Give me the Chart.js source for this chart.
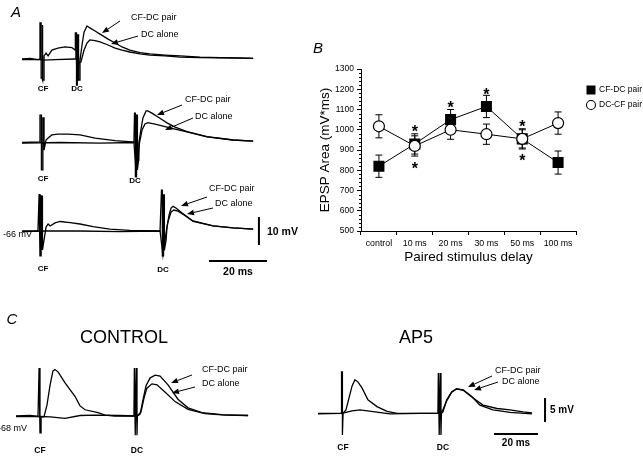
<!DOCTYPE html>
<html>
<head>
<meta charset="utf-8">
<script src="https://cdn.jsdelivr.net/npm/chart.js@4.4.1/dist/chart.umd.min.js"></script>
<style>
  body { margin: 0; background: #fff; }
  #fig { position: relative; width: 643px; height: 457px; overflow: hidden;
         font-family: "Liberation Sans", Arial, sans-serif; color: #000; }
  #fig canvas { position: absolute; }
  .lbl { position: absolute; white-space: nowrap; line-height: 1; }
</style>
</head>
<body>
<div id="fig">
  <canvas id="a1"></canvas>
  <canvas id="a2"></canvas>
  <canvas id="a3"></canvas>
  <canvas id="ctl"></canvas>
  <canvas id="ap5"></canvas>
  <canvas id="b"></canvas>
  <canvas id="arrows" width="643" height="457" style="left:0;top:0"></canvas>
</div>
<script>
// panel B data (EPSP area, mV*ms)
const delays = ['control', '10 ms', '20 ms', '30 ms', '50 ms', '100 ms'];
const cfdcMean = [820, 930, 1050, 1115, 955, 838];
const cfdcErr = [55, 50, 50, 55, 50, 57];
const dccfMean = [1017, 920, 1000, 978, 955, 1033];
const dccfErr = [57, 50, 47, 50, 45, 55];
const starAbove = [null, 1007, 1125, 1192, 1035, null];
const starBelow = [null, 826, null, null, 867, null];
const yTicks = [500, 600, 700, 800, 900, 1000, 1100, 1200, 1300];

// traces: [time ms, mV above rest]
const a1Pair = [[0,0],[2.8,0.2],[5.5,-0.2],[6.2,0],[6.2,12.9],[6.6,12.9],[6.6,-6.8],[6.9,-6.8],[6.9,12.1],[7.2,12.1],[7.2,-7.5],[7.6,-7.5],[7.6,1.1],[8.3,2.1],[9.0,1.1],[10.3,3.2],[12.4,3.9],[14.8,4.3],[17.2,4.1],[18.3,3.2],[18.4,9.3],[18.8,9.3],[18.8,-9.3],[19.1,-9.3],[19.1,8.6],[19.5,8.6],[19.5,-7.5],[19.8,-7.5],[20,-0.4],[20.7,5],[21.4,9.6],[22.4,11.8],[23.4,11.1],[25.2,10],[26.9,8.9],[29.7,7.1],[32.1,5.7],[34.5,4.3],[37.2,3.2],[40.7,2.3],[44.1,1.8],[49.3,1.4],[54.5,1.1],[61.4,0.7],[68.3,0.5],[75.2,0.4],[79.7,0.2]];
const a1Alone = [[0,-0.2],[6.2,-0.2],[7.6,-0.4],[11.4,-0.2],[18.3,0],[18.6,8.6],[19,-8.9],[19.7,-1.1],[20.3,-1.1],[21.4,3.2],[22.4,5.7],[23.4,6.8],[25.2,6.6],[26.9,6.1],[29.7,5],[32.1,3.9],[34.5,3.2],[37.2,2.5],[40.7,1.8],[44.1,1.4],[49.3,1.1],[54.5,0.7],[61.4,0.5],[68.3,0.4],[79.7,0.2]];
const a2Pair = [[0,0],[6.2,0.2],[6.2,9.8],[6.7,9.8],[6.7,-9.8],[7.2,-9.8],[7.2,8.8],[7.6,8.8],[7.6,-2.7],[8.3,0.9],[9,1.6],[10.3,2.7],[12.4,3],[15.9,3],[20,2.7],[25.2,1.6],[32.1,0.7],[37.9,0.2],[38.6,0],[38.8,10.5],[39.1,10.5],[39.1,-12.3],[39.5,-12.3],[39.5,9.8],[39.8,9.8],[39.8,-9.8],[40.2,-6.3],[40.3,-0.2],[41,4.5],[41.7,8.8],[42.8,11.3],[43.4,11.3],[44.8,10.5],[46.9,9.1],[50,7],[52.8,5.5],[56.9,3.9],[63.8,2.1],[72.8,0.9],[79.7,0.5]];
const a2Alone = [[0,-0.2],[13.1,0],[26.9,-0.2],[38.6,0],[39.3,-9.8],[40,-6.3],[40.5,-0.2],[41.4,4.5],[42.4,6.6],[43.4,7.1],[45.9,6.6],[50,5.5],[52.8,4.8],[56.9,3.8],[63.8,2],[72.8,0.9],[79.7,0.5]];
const a3Pair = [[0,0],[5.5,0],[5.9,13.2],[6.2,13.2],[6.2,-8.9],[6.6,-8.9],[6.6,12.5],[6.9,12.5],[6.9,-6.8],[7.2,-6.8],[7.6,-3.2],[8.3,1.4],[9,2.5],[9.7,1.8],[11.4,2.9],[13.1,3.4],[16.6,3],[20,2.5],[24.5,1.6],[30.3,0.7],[37.2,0.2],[47.6,0],[48.1,14.6],[48.4,14.6],[48.4,-8.9],[48.8,-8.9],[48.8,12.9],[49.1,12.9],[49.1,-6.8],[49.7,-3.2],[50,1.4],[50.7,5.7],[51.4,8.2],[52.1,8.8],[53.1,8.2],[55.2,6.4],[59,3.6],[65.9,1.8],[72.8,1.1],[79.7,0.7]];
const a3Alone = [[0,-0.2],[7.9,0],[20,0],[33.8,-0.2],[47.6,0],[48.6,-8.6],[49.7,-0.4],[50.3,3.2],[51.4,6.8],[52.4,7.5],[53.8,7.1],[55.9,5.7],[59,3.4],[65.9,1.8],[72.8,1.1],[79.7,0.7]];
const ctlPair = [[0,0],[6.4,0.1],[10,-0.1],[10.5,10],[10.9,10],[10.9,-3.5],[11.4,-3.5],[11.4,-0.2],[12.7,-0.2],[14.1,2.3],[15.5,6.5],[16.8,9.4],[17.7,9.7],[19.1,9.2],[22.3,6.9],[26.8,4.1],[29.1,2.1],[31.4,1.3],[37.3,0.7],[40.5,0.2],[45,0],[51.8,0],[53.6,0],[53.8,10],[54.2,-4],[54.6,10],[55,-4],[55.2,0],[56.4,0.4],[57.7,3.3],[59.1,6.3],[60.9,7.9],[63.2,8.5],[65.5,8.3],[69.1,6.5],[73.6,3.5],[78.2,1.7],[84.5,0.7],[93.6,0.3],[105.5,0.1]];
const ctlAlone = [[0,-0.1],[10.9,-0.1],[15.5,-0.2],[22.3,-0.5],[29.1,0.1],[35.9,0.2],[47.3,0.1],[53.6,0],[55,0],[56.8,0.8],[58.2,3.8],[59.5,5.8],[61.8,6.7],[64.1,6.5],[67.7,5],[72.3,3],[78.2,1.4],[85.9,0.5],[95,0.2],[105.5,0.1]];
const ap5Pair = [[0,0],[5.5,0],[10.5,0],[10.7,8.6],[11.1,8.6],[11.1,-4.5],[11.4,0],[12.7,0.7],[14.1,3.2],[15.5,5.7],[16.8,7],[18.2,6.5],[20,5.3],[22.7,2.8],[26.8,1.4],[31.4,0.4],[35.9,0],[46.4,0],[54.5,0],[54.7,8.4],[55.1,-4.5],[55.5,8.4],[55.9,-4.5],[56.1,0],[56.8,0.3],[58.5,2.8],[60.8,4.5],[63,5.1],[66,4.9],[69.9,3.5],[73.6,1.7],[79.5,0.7],[87.3,0.2],[97.3,-0.1]];
const ap5Alone = [[0,-0.1],[10.9,0],[15.5,0.5],[19.1,0.7],[25.9,0.3],[32.7,-0.1],[46.4,0],[54.5,0],[56.4,0.3],[58.5,2.6],[60.8,4.4],[63,5.1],[66,4.8],[69.9,3.4],[75,1.7],[81.4,1],[87.3,0.7],[93.2,0.3],[97.3,0.1]];

const FONT = '"Liberation Sans", Arial, sans-serif';

function traceChart(id, box, geo, sets, extra) {
  const cv = document.getElementById(id);
  cv.width = box[2]; cv.height = box[3];
  cv.style.left = box[0] + 'px'; cv.style.top = box[1] + 'px';
  const xmin = (box[0] - geo.x0) / geo.pxMs;
  const xmax = (box[0] + box[2] - geo.x0) / geo.pxMs;
  const ymax = (geo.base - box[1]) / geo.pxMv;
  const ymin = (geo.base - box[1] - box[3]) / geo.pxMv;
  return new Chart(cv, {
    type: 'line',
    data: {
      datasets: sets.map(s => ({
        data: s.map(p => ({ x: p[0], y: p[1] })),
        borderColor: '#000', borderWidth: 1.3, pointRadius: 0, tension: 0, fill: false
      }))
    },
    options: {
      responsive: false, animation: false, events: [],
      layout: { padding: 0 },
      plugins: { legend: { display: false }, tooltip: { enabled: false } },
      scales: {
        x: { type: 'linear', display: false, min: xmin, max: xmax },
        y: { display: false, min: ymin, max: ymax }
      }
    },
    plugins: extra ? [extra] : []
  });
}

// calibration bars, in ms and mV
function scaleBars(t, v0, v1, h0, h1, hAt) {
  return {
    id: 'bars',
    afterDraw(c) {
      const x = c.scales.x, y = c.scales.y, ctx = c.ctx;
      ctx.save();
      ctx.strokeStyle = '#000'; ctx.lineWidth = 2;
      ctx.beginPath();
      ctx.moveTo(x.getPixelForValue(t), y.getPixelForValue(v0));
      ctx.lineTo(x.getPixelForValue(t), y.getPixelForValue(v1));
      ctx.moveTo(x.getPixelForValue(h0), y.getPixelForValue(hAt));
      ctx.lineTo(x.getPixelForValue(h1), y.getPixelForValue(hAt));
      ctx.stroke();
      ctx.restore();
    }
  };
}

const geoA = { x0: 22, pxMs: 2.9, pxMv: 2.8 };
traceChart('a1', [0, 10, 290, 82], { ...geoA, base: 59 }, [a1Alone, a1Pair]);
traceChart('a2', [0, 95, 290, 90], { ...geoA, base: 142.5 }, [a2Alone, a2Pair]);
traceChart('a3', [0, 185, 320, 95], { ...geoA, base: 231 }, [a3Alone, a3Pair],
  scaleBars(81.7, -5, 5, 64.5, 84.5, -10.7));
traceChart('ctl', [0, 355, 300, 90], { x0: 16, base: 416, pxMs: 2.2, pxMv: 4.8 }, [ctlAlone, ctlPair]);
traceChart('ap5', [300, 355, 300, 95], { x0: 318, base: 413.3, pxMs: 2.2, pxMv: 4.8 }, [ap5Alone, ap5Pair],
  scaleBars(103.2, -1.8, 3.2, 80, 100, -4.3));

// panel B
const errorBars = {
  id: 'errorBars',
  beforeDatasetsDraw(c) {
    const ctx = c.ctx, y = c.scales.y;
    ctx.save();
    ctx.strokeStyle = '#000'; ctx.lineWidth = 1;
    c.data.datasets.forEach((ds, i) => {
      c.getDatasetMeta(i).data.forEach((pt, j) => {
        const top = y.getPixelForValue(ds.data[j] + ds.err[j]);
        const bot = y.getPixelForValue(ds.data[j] - ds.err[j]);
        ctx.beginPath();
        ctx.moveTo(pt.x, top); ctx.lineTo(pt.x, bot);
        ctx.moveTo(pt.x - 3.5, top); ctx.lineTo(pt.x + 3.5, top);
        ctx.moveTo(pt.x - 3.5, bot); ctx.lineTo(pt.x + 3.5, bot);
        ctx.stroke();
      });
    });
    ctx.restore();
  }
};

const extras = {
  id: 'extras',
  afterDraw(c) {
    const ctx = c.ctx, x = c.scales.x, y = c.scales.y, a = c.chartArea;
    ctx.save();
    // minor ticks every 20
    ctx.strokeStyle = '#000'; ctx.lineWidth = 1;
    ctx.beginPath();
    for (let v = 500; v <= 1300; v += 20) {
      if (v % 100 === 0) continue;
      const py = Math.round(y.getPixelForValue(v)) + 0.5;
      ctx.moveTo(a.left - 2, py); ctx.lineTo(a.left, py);
    }
    ctx.stroke();
    // significance stars
    ctx.fillStyle = '#000';
    ctx.font = 'bold 16px ' + FONT;
    ctx.textAlign = 'center'; ctx.textBaseline = 'alphabetic';
    [starAbove, starBelow].forEach(arr => arr.forEach((v, i) => {
      if (v == null) return;
      ctx.fillText('*', x.getPixelForValue(i), y.getPixelForValue(v) + 9);
    }));
    // legend
    const lx = 291, ly = [50, 65];
    c.data.datasets.forEach((ds, i) => {
      ctx.beginPath();
      if (ds.pointStyle === 'rect') {
        ctx.fillStyle = '#000';
        ctx.fillRect(lx - 4.5, ly[i] - 4.5, 9, 9);
      } else {
        ctx.fillStyle = '#fff'; ctx.lineWidth = 1.1;
        ctx.arc(lx, ly[i], 4.5, 0, Math.PI * 2);
        ctx.fill(); ctx.stroke();
      }
      ctx.fillStyle = '#000';
      ctx.font = '8.5px ' + FONT;
      ctx.textAlign = 'left'; ctx.textBaseline = 'middle';
      ctx.fillText(ds.label, 299, ly[i]);
    });
    ctx.restore();
  }
};

const bc = document.getElementById('b');
bc.width = 343; bc.height = 230;
bc.style.left = '300px'; bc.style.top = '40px';
new Chart(bc, {
  type: 'line',
  data: {
    labels: delays,
    datasets: [
      { label: 'CF-DC pair', data: cfdcMean, err: cfdcErr, borderColor: '#000', borderWidth: 1,
        pointStyle: 'rect', pointRadius: 7.8, pointBackgroundColor: '#000', pointBorderColor: '#000',
        pointBorderWidth: 0, order: 1 },
      { label: 'DC-CF pair', data: dccfMean, err: dccfErr, borderColor: '#000', borderWidth: 1,
        pointStyle: 'circle', pointRadius: 5.5, pointBackgroundColor: '#fff', pointBorderColor: '#000',
        pointBorderWidth: 1.2, order: 0 }
    ]
  },
  options: {
    responsive: false, animation: false, events: [],
    layout: { padding: { top: 29, right: 67, left: 0, bottom: 0 } },
    plugins: { legend: { display: false }, tooltip: { enabled: false } },
    scales: {
      x: {
        offset: true,
        grid: { offset: true, drawOnChartArea: false, tickLength: 4, color: '#000' },
        border: { color: '#000', width: 1 },
        ticks: { color: '#000', font: { size: 8.8, family: FONT }, padding: 3, maxRotation: 0, autoSkip: false },
        title: { display: true, text: 'Paired stimulus delay', color: '#000',
                 font: { size: 13.5, family: FONT }, padding: { top: 0, bottom: 5 } },
        afterFit(s) { s.height = 39; }
      },
      y: {
        min: 500, max: 1300,
        afterBuildTicks(s) { s.ticks = yTicks.map(v => ({ value: v })); },
        grid: { drawOnChartArea: false, tickLength: 4, color: '#000' },
        border: { color: '#000', width: 1 },
        ticks: { color: '#000', font: { size: 8.5, family: FONT }, padding: 3, callback: v => String(v) },
        title: { display: true, text: 'EPSP Area (mV*ms)', color: '#000',
                 font: { size: 13.5, family: FONT }, padding: { top: 17, bottom: 0 } },
        afterFit(s) { s.width = 61; }
      }
    }
  },
  plugins: [errorBars, extras]
});

// arrows from labels to traces (page px)
const arrows = [
  [120, 21, 102, 33], [138, 36, 111, 44],
  [182, 105, 157, 115], [193, 118, 165, 130],
  [207, 197, 181, 206], [213, 208, 187, 214],
  [192, 375, 171, 383], [195, 387, 172, 393],
  [492, 376, 468, 387], [498, 382, 474, 390]
];
const actx = document.getElementById('arrows').getContext('2d');
actx.strokeStyle = '#000'; actx.fillStyle = '#000'; actx.lineWidth = 1;
arrows.forEach(([x1, y1, x2, y2]) => {
  const ang = Math.atan2(y2 - y1, x2 - x1), L = 7, W = 2.8;
  const bx = x2 - L * Math.cos(ang), by = y2 - L * Math.sin(ang);
  actx.beginPath(); actx.moveTo(x1, y1); actx.lineTo(bx, by); actx.stroke();
  actx.beginPath();
  actx.moveTo(x2, y2);
  actx.lineTo(bx + W * Math.sin(ang), by - W * Math.cos(ang));
  actx.lineTo(bx - W * Math.sin(ang), by + W * Math.cos(ang));
  actx.closePath(); actx.fill();
});

// text labels: [text, x, y, anchor, css]
const labels = [
  ['A', 16, 11, 'c', 'font-style:italic;font-size:15px'],
  ['CF-DC pair', 131, 17, 'l', 'font-size:9px'],
  ['DC alone', 141, 34, 'l', 'font-size:9px'],
  ['CF', 43, 89, 'c', 'font-weight:bold;font-size:8px'],
  ['DC', 77, 89, 'c', 'font-weight:bold;font-size:8px'],
  ['CF-DC pair', 185, 99, 'l', 'font-size:9px'],
  ['DC alone', 195, 116, 'l', 'font-size:9px'],
  ['CF', 43, 179, 'c', 'font-weight:bold;font-size:8px'],
  ['DC', 135, 181, 'c', 'font-weight:bold;font-size:8px'],
  ['CF-DC pair', 209, 188, 'l', 'font-size:9px'],
  ['DC alone', 215, 203, 'l', 'font-size:9px'],
  ['-66 mV', 3, 234, 'l', 'font-size:9px'],
  ['CF', 43, 269, 'c', 'font-weight:bold;font-size:8px'],
  ['DC', 163, 270, 'c', 'font-weight:bold;font-size:8px'],
  ['10 mV', 267, 231, 'l', 'font-weight:bold;font-size:10.5px'],
  ['20 ms', 238, 271, 'c', 'font-weight:bold;font-size:10.5px'],
  ['B', 318, 47, 'c', 'font-style:italic;font-size:15px'],
  ['C', 12, 318, 'c', 'font-style:italic;font-size:15px'],
  ['CONTROL', 124, 337, 'c', 'font-size:18px'],
  ['AP5', 416, 337, 'c', 'font-size:18px'],
  ['CF-DC pair', 202, 369, 'l', 'font-size:9px'],
  ['DC alone', 202, 383, 'l', 'font-size:9px'],
  ['-68 mV', -2, 428, 'l', 'font-size:9px'],
  ['CF', 40, 450, 'c', 'font-weight:bold;font-size:8.5px'],
  ['DC', 137, 450, 'c', 'font-weight:bold;font-size:8.5px'],
  ['CF-DC pair', 495, 370, 'l', 'font-size:9px'],
  ['DC alone', 502, 381, 'l', 'font-size:9px'],
  ['CF', 343, 447, 'c', 'font-weight:bold;font-size:8.5px'],
  ['DC', 443, 447, 'c', 'font-weight:bold;font-size:8.5px'],
  ['5 mV', 550, 410, 'l', 'font-weight:bold;font-size:10px'],
  ['20 ms', 516, 443, 'c', 'font-weight:bold;font-size:10px']
];
const fig = document.getElementById('fig');
labels.forEach(([t, x, y, anc, css]) => {
  const d = document.createElement('div');
  d.className = 'lbl';
  d.textContent = t;
  d.style.cssText = css + ';left:' + x + 'px;top:' + y + 'px;transform:translate(' + (anc === 'c' ? '-50%' : '0') + ',-50%)';
  fig.appendChild(d);
});
</script>
</body>
</html>
